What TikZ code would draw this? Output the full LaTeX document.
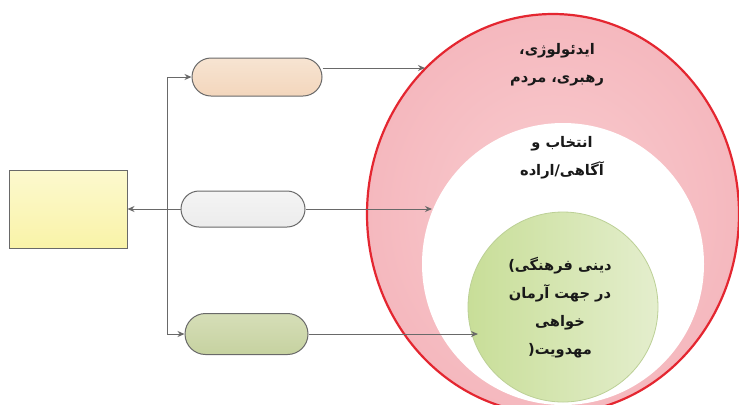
\documentclass[tikz,border=0pt]{standalone}
\usepackage{fontspec}
\newfontfamily\fa[Script=Arabic]{DejaVu Sans}
\TeXXeTstate=1
\usetikzlibrary{arrows.meta,shapes.geometric,shapes.misc}
\definecolor{linegray}{RGB}{105,105,105}
\definecolor{ringred}{RGB}{228,38,48}
\definecolor{ringpink}{RGB}{245,184,190}
\definecolor{ringpinklight}{RGB}{249,205,208}
\definecolor{greenA}{RGB}{200,222,152}
\definecolor{greenB}{RGB}{228,238,205}
\definecolor{greenedge}{RGB}{188,208,150}
\definecolor{peachA}{RGB}{247,228,210}
\definecolor{peachB}{RGB}{243,214,188}
\definecolor{greyA}{RGB}{244,244,244}
\definecolor{greyB}{RGB}{236,236,236}
\definecolor{oliveA}{RGB}{214,222,184}
\definecolor{oliveB}{RGB}{198,210,160}
\definecolor{yellowA}{RGB}{252,249,206}
\definecolor{yellowB}{RGB}{249,243,168}
\tikzset{
  conn/.style={draw=linegray, line width=0.5pt},
  tip/.style={conn, -{Stealth[length=3.5pt,width=3pt]}},
  pill/.style={rounded rectangle, draw=linegray, line width=0.5pt,
    minimum width=#1, minimum height=19pt, inner sep=0pt},
  ftext/.style={align=center, font=\fa\bfseries\fontsize{7.3}{14}\selectfont, text=black!90}
}
\begin{document}
\begin{tikzpicture}[x=0.5pt,y=-0.5pt]
\useasboundingbox (0,0) rectangle (739,404);
\fill[white] (0,0) rectangle (739,404);
\begin{scope}
\clip (0,0) rectangle (739,404);
% nested circles
\node[ellipse, draw=ringred, line width=1.1pt, inner color=ringpinklight, outer color=ringpink,
      minimum width=186pt, minimum height=200pt] (outer) at (553,214) {};
\node[circle, fill=white, minimum size=141pt, inner sep=0pt] (middle) at (563,264) {};
\node[circle, draw=greenedge, line width=0.4pt, left color=greenA, right color=greenB,
      minimum size=95pt, inner sep=0pt] (inner) at (563,307) {};
\end{scope}
% texts inside the circles (parentheses given in their mirrored right-to-left form)
\node[ftext] (t1) at (557,65) {\beginR ایدئولوژی،\endR\\ \beginR رهبری، مردم\endR};
\node[ftext] (t2) at (562,158) {\beginR انتخاب و\endR\\ \beginR آگاهی/اراده\endR};
\node[ftext] (t3) at (560,308) {\beginR دینی فرهنگی)\endR\\ \beginR در جهت آرمان\endR\\ \beginR خواهی\endR\\ \beginR مهدویت(\endR};
% left side boxes
\node[draw=linegray, line width=0.5pt, top color=yellowA, bottom color=yellowB,
      minimum width=59pt, minimum height=39pt, inner sep=0pt] (box) at (68,209) {};
\node[pill=65pt, top color=peachA, bottom color=peachB] (p1) at (257,77) {};
\node[pill=62pt, top color=greyA, bottom color=greyB, minimum height=18pt] (p2) at (243,209) {};
\node[pill=61.5pt, top color=oliveA, bottom color=oliveB, minimum height=20.5pt] (p3) at (246.5,334) {};
% connector ends on the rings
\coordinate (e1) at (425,68);
\coordinate (e2) at (432,209);
\coordinate (e3) at (478,334);
\coordinate (trunkTop) at (167,77);
\coordinate (trunkBot) at (167,334);
% connectors
\draw[conn] (trunkTop) -- (trunkBot);
\draw[tip] (trunkTop) -- (p1.west);
\draw[tip] (trunkBot) -- (p3.west);
\draw[tip] (p2.west) -- (box.east);
\draw[tip] (p1.east |- e1) -- (e1);
\draw[tip] (p2.east) -- (e2);
\draw[tip] (p3.east) -- (e3);
\end{tikzpicture}
\end{document}
